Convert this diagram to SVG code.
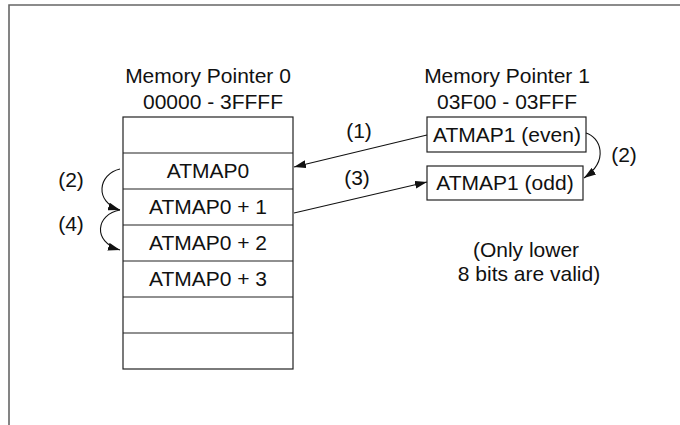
<svg xmlns="http://www.w3.org/2000/svg" width="680" height="425" viewBox="0 0 680 425">
<style>
text{font-family:"Liberation Sans",Arial,sans-serif;font-size:21px;fill:#111;text-anchor:middle}
.box{fill:#fff;stroke:#222;stroke-width:1.2}
.ln{stroke:#222;stroke-width:1.2;fill:none}
.con{stroke:#111;stroke-width:1.1;fill:none;marker-end:url(#ah)}
</style>
<defs>
<marker id="ah" viewBox="0 0 12 8" refX="12" refY="4" markerWidth="12" markerHeight="8" markerUnits="userSpaceOnUse" orient="auto">
<path d="M0,0 L12,4 L0,8 Z" fill="#111"/>
</marker>
</defs>
<rect width="680" height="425" fill="#fff"/>
<path d="M9,425 V5 H680" fill="none" stroke="#666" stroke-width="1.6"/>
<g id="mp0-title">
<text x="208" y="83">Memory Pointer 0</text>
<text x="213" y="109">00000 - 3FFFF</text>
</g>
<g id="mp1-title">
<text x="507" y="83">Memory Pointer 1</text>
<text x="507" y="109">03F00 - 03FFF</text>
</g>
<g id="table">
<rect class="box" x="123" y="117" width="170" height="252"/>
<path class="ln" d="M123,153 H293 M123,189 H293 M123,225 H293 M123,261 H293 M123,297 H293 M123,333 H293"/>
<text x="208" y="178">ATMAP0</text>
<text x="208" y="214">ATMAP0 + 1</text>
<text x="208" y="250">ATMAP0 + 2</text>
<text x="208" y="286">ATMAP0 + 3</text>
</g>
<g id="atmap1-even">
<rect class="box" x="427" y="117" width="159" height="35"/>
<text x="507" y="142">ATMAP1 (even)</text>
</g>
<g id="atmap1-odd">
<rect class="box" x="427" y="166" width="156" height="34"/>
<text x="505" y="190">ATMAP1 (odd)</text>
</g>
<g id="connectors">
<path class="con" d="M427,135 L294,167"/>
<path class="con" d="M294,213 L427,182"/>
<path class="con" d="M586,133 C600,137 610,160 584,178"/>
<path class="con" d="M120,169 C98,174 94,202 120,210"/>
<path class="con" d="M120,210 C96,214 92,242 120,250"/>
</g>
<g id="labels">
<text x="359" y="138">(1)</text>
<text x="357" y="185">(3)</text>
<text x="624" y="162">(2)</text>
<text x="71" y="187">(2)</text>
<text x="71" y="231">(4)</text>
<text x="526" y="257">(Only lower</text>
<text x="529" y="281">8 bits are valid)</text>
</g>
</svg>
